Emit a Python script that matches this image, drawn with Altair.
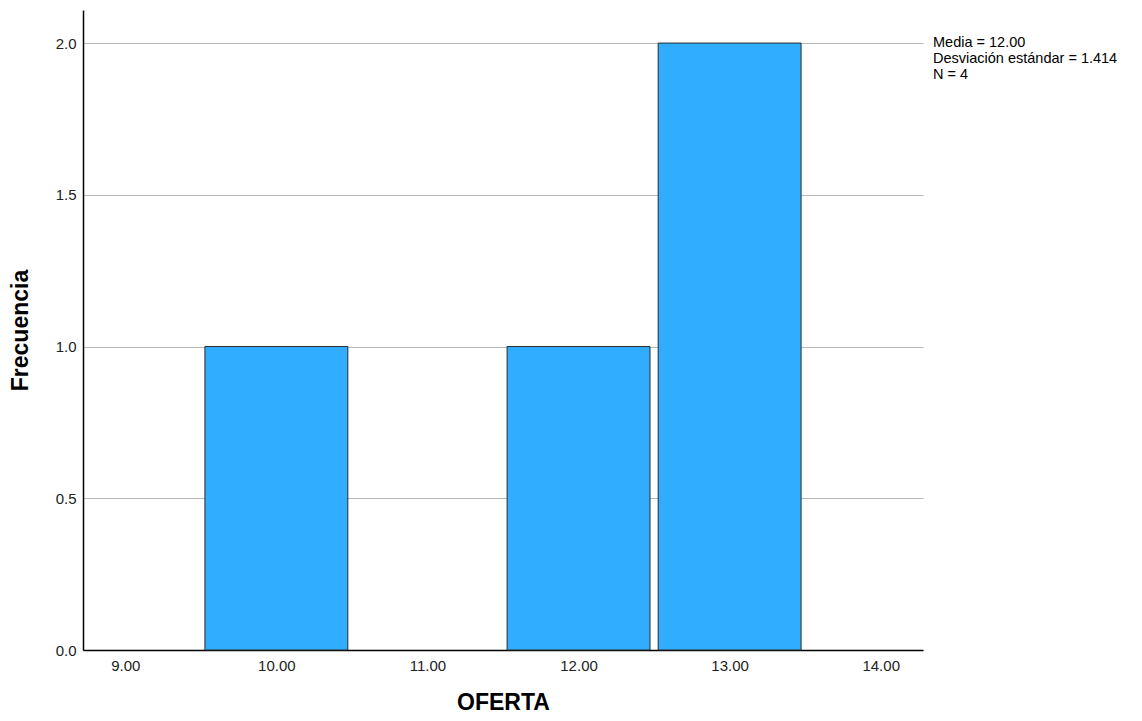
import altair as alt
import pandas as pd

values = [10.0, 12.0, 13.0]
freqs = [1, 1, 2]
x_ticks = [9, 10, 11, 12, 13, 14]
y_ticks = [0.0, 0.5, 1.0, 1.5, 2.0]
stats_lines = ["Media = 12.00", "Desviación estándar = 1.414", "N = 4"]

df = pd.DataFrame({"v": values, "f": freqs})
FONT = "Liberation Sans"

x_scale = alt.Scale(domain=[8.72, 14.28], nice=False, zero=False)
y_scale = alt.Scale(domain=[0, 2.109], nice=False)

bars = alt.Chart(df).transform_calculate(
    x0="datum.v - 0.473", x1="datum.v + 0.473"
).mark_bar(color="#31adff", stroke="#2b2b2b", strokeWidth=1).encode(
    x=alt.X("x0:Q", scale=x_scale,
            axis=alt.Axis(values=x_ticks, format=".2f", title="OFERTA", grid=False,
                          ticks=False, domainColor="#000", labelFont=FONT, labelFontSize=15,
                          labelColor="#222", labelPadding=8, titleFont=FONT,
                          titleFontSize=23, titleFontWeight="bold", titleColor="#000",
                          titlePadding=18)),
    x2="x1:Q",
    y=alt.Y("f:Q", scale=y_scale,
            axis=alt.Axis(values=y_ticks, format=".1f", title="Frecuencia", grid=True,
                          gridColor="#b8b8b8", ticks=False, domainColor="#000",
                          labelFont=FONT, labelFontSize=15, labelColor="#222",
                          labelPadding=7, titleFont=FONT, titleFontSize=23,
                          titleFontWeight="bold", titleColor="#000", titlePadding=23)),
    y2=alt.datum(0),
)

sdf = pd.DataFrame({"t": ["\n".join(stats_lines)]})
stats = alt.Chart(sdf).mark_text(
    align="left", baseline="top", font=FONT, fontSize=14.5, color="#000",
    lineBreak="\n", lineHeight=16
).encode(
    x=alt.value(850),
    y=alt.value(26),
    text="t:N",
)

chart = alt.layer(bars, stats).properties(
    width=840, height=640,
    autosize=alt.AutoSizeParams(type="none"),
    padding={"left": 75, "top": 2, "right": 211, "bottom": 63},
).configure_view(stroke=None).configure_axis(domainWidth=1.5)

chart.save("out.html", embed_options={"renderer": "svg", "actions": False})
